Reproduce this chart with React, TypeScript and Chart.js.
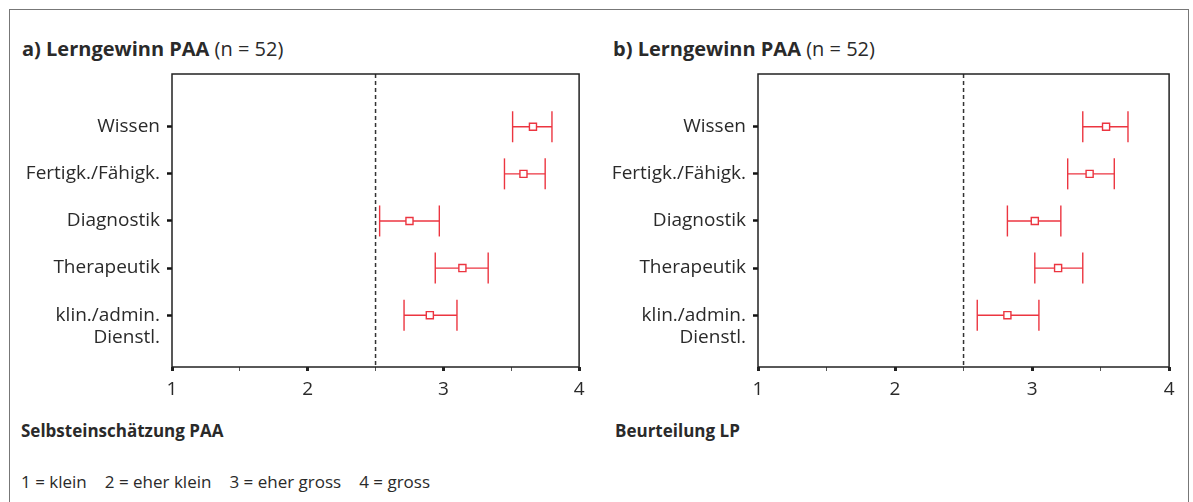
import React, { useEffect, useRef } from "react";
import { Chart, registerables } from "chart.js";

Chart.register(...registerables);

// ---- data ----
const CATEGORIES = ["Wissen", "Fertigk./Fähigk.", "Diagnostik", "Therapeutik", "klin./admin.\nDienstl."];
const A_MEAN = [3.66, 3.59, 2.75, 3.14, 2.9];
const A_LOW = [3.51, 3.45, 2.53, 2.94, 2.71];
const A_HIGH = [3.8, 3.75, 2.97, 3.33, 3.1];
const B_MEAN = [3.54, 3.42, 3.02, 3.19, 2.82];
const B_LOW = [3.37, 3.26, 2.82, 3.02, 2.6];
const B_HIGH = [3.7, 3.6, 3.21, 3.37, 3.05];
const X_MIN = 1;
const X_MAX = 4;
const MIDPOINT = 2.5;
const SCALE_LEGEND = ["1 = klein", "2 = eher klein", "3 = eher gross", "4 = gross"];

const RED = "#ec3540";
const FONT = "'Open Sans', 'Noto Sans', sans-serif";
const TEXT = "#2a2a2a";

const framePlugin = {
  id: "frame",
  afterDraw(chart: any) {
    const { ctx, chartArea: a } = chart;
    ctx.save();
    ctx.strokeStyle = "#222";
    ctx.lineWidth = 1.5;
    ctx.strokeRect(a.left, a.top, a.right - a.left, a.bottom - a.top);
    ctx.restore();
  },
};

function Panel(props: {
  mean: number[];
  low: number[];
  high: number[];
  left: number;
  width: number;
  yAxisWidth: number;
}) {
  const ref = useRef<HTMLCanvasElement>(null);
  useEffect(() => {
    const yMin = -1.12;
    const yMax = 5.1;
    const errorSets = CATEGORIES.map((_, i) => ({
      type: "scatter" as const,
      data: [
        { x: props.low[i], y: i },
        { x: props.high[i], y: i },
      ],
      showLine: true,
      borderColor: RED,
      borderWidth: 1.4,
      pointStyle: "line",
      rotation: 90,
      pointRadius: 15.5,
      pointBorderColor: RED,
      pointBorderWidth: 1.4,
      order: 2,
    }));
    const chart = new Chart(ref.current!, {
      type: "scatter",
      data: {
        datasets: [
          {
            data: [
              { x: MIDPOINT, y: yMin },
              { x: MIDPOINT, y: yMax },
            ],
            showLine: true,
            borderColor: "#333",
            borderWidth: 1.5,
            borderDash: [4, 3],
            pointRadius: 0,
            order: 3,
          } as any,
          ...errorSets,
          {
            data: props.mean.map((m, i) => ({ x: m, y: i })),
            pointStyle: "rect",
            pointRadius: 5,
            pointBorderWidth: 1.4,
            pointBorderColor: RED,
            pointBackgroundColor: "#fff",
            order: 1,
          } as any,
        ],
      },
      options: {
        animation: false,
        responsive: false,
        events: [],
        layout: { padding: { top: 74, right: 13, left: 0, bottom: 0 } },
        plugins: { legend: { display: false }, tooltip: { enabled: false }, title: { display: false } },
        scales: {
          x: {
            type: "linear",
            min: X_MIN,
            max: X_MAX,
            border: { display: false },
            afterFit(scale: any) {
              scale.height = 35;
            },
            grid: {
              drawOnChartArea: false,
              drawTicks: true,
              tickLength: 4,
              tickWidth: (c: any) => (Number.isInteger(c.tick?.value) ? 3 : 1),
              tickColor: (c: any) => (Number.isInteger(c.tick?.value) ? "#222" : "#555"),
            },
            ticks: {
              stepSize: 0.5,
              autoSkip: false,
              maxRotation: 0,
              padding: 7,
              color: TEXT,
              font: { family: FONT, size: 19 },
              callback: (v: any) => (Number.isInteger(v) ? String(v) : ""),
            },
          },
          y: {
            type: "linear",
            min: yMin,
            max: yMax,
            reverse: true,
            border: { display: false },
            afterFit(scale: any) {
              scale.width = props.yAxisWidth;
            },
            afterBuildTicks(scale: any) {
              scale.ticks = CATEGORIES.map((_, i) => ({ value: i }));
            },
            grid: {
              drawOnChartArea: false,
              drawTicks: true,
              tickLength: 5,
              tickWidth: 2.5,
              tickColor: "#111",
            },
            ticks: {
              padding: 7,
              color: TEXT,
              font: { family: FONT, size: 19, lineHeight: 1.2 },
              callback: (v: any) => {
                const lab = CATEGORIES[v];
                if (lab === undefined) return "";
                if (lab.includes("\n")) return ["", ...lab.split("\n")];
                return lab;
              },
            },
          },
        },
      } as any,
      plugins: [framePlugin],
    });
    return () => chart.destroy();
  }, []);
  return (
    <canvas
      ref={ref}
      width={props.width}
      height={402}
      style={{ position: "absolute", left: props.left, top: 0, width: props.width, height: 402 }}
    />
  );
}

function Title(props: { left: number; letter: string }) {
  return (
    <div
      style={{
        position: "absolute",
        left: props.left,
        top: 37,
        fontFamily: FONT,
        fontSize: 20,
        lineHeight: "24px",
        color: TEXT,
        whiteSpace: "nowrap",
      }}
    >
      <b>{props.letter}) Lerngewinn PAA</b> (n = 52)
    </div>
  );
}

const footStyle: any = {
  position: "absolute",
  fontFamily: FONT,
  fontSize: 17,
  lineHeight: "20px",
  color: TEXT,
  whiteSpace: "nowrap",
};

export default function App() {
  useEffect(() => {
    document.body.style.overflow = "hidden";
  }, []);
  return (
    <div style={{ position: "absolute", left: 0, top: 0, width: 1193, height: 502, background: "#fff", overflow: "hidden" }}>
      <div
        style={{
          position: "absolute",
          left: 9,
          top: 9,
          width: 1180,
          height: 493,
          boxSizing: "border-box",
          borderTop: "1.5px solid #777",
          borderLeft: "1.5px solid #777",
          borderRight: "1.5px solid #777",
        }}
      />
      <Title left={22} letter="a" />
      <Title left={613} letter="b" />
      <Panel mean={A_MEAN} low={A_LOW} high={A_HIGH} left={0} width={596} yAxisWidth={172} />
      <Panel mean={B_MEAN} low={B_LOW} high={B_HIGH} left={596} width={590} yAxisWidth={162} />
      <div style={{ ...footStyle, left: 21, top: 420.5, fontWeight: "bold" }}>Selbsteinschätzung PAA</div>
      <div style={{ ...footStyle, left: 615, top: 420.5, fontWeight: "bold" }}>Beurteilung LP</div>
      <div style={{ ...footStyle, left: 21, top: 471.5 }}>
        {SCALE_LEGEND.map((s, i) => (
          <span key={i} style={{ marginRight: 18 }}>
            {s}
          </span>
        ))}
      </div>
    </div>
  );
}
